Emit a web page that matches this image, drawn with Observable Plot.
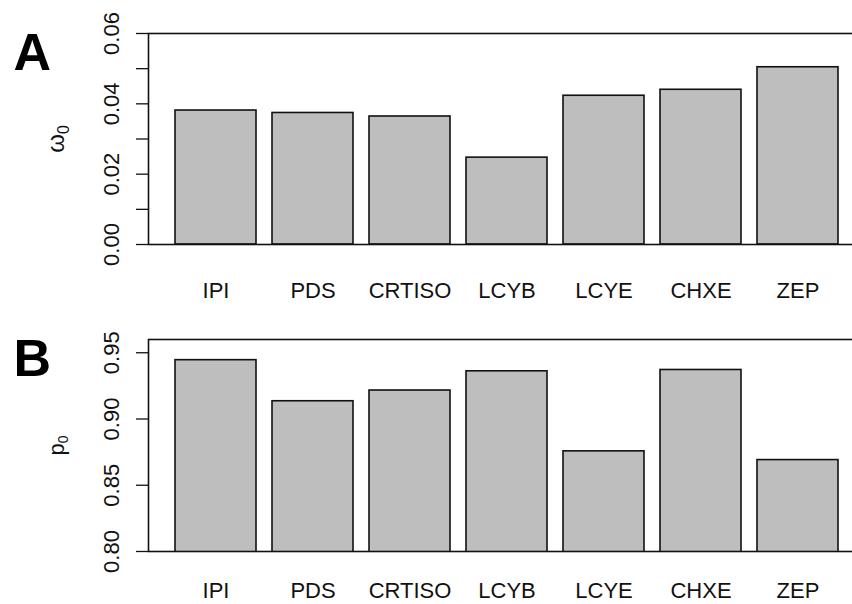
<!DOCTYPE html>
<html>
<head>
<meta charset="utf-8">
<script src="https://cdn.jsdelivr.net/npm/d3@7"></script>
<script src="https://cdn.jsdelivr.net/npm/@observablehq/plot@0.6"></script>
<style>
  html, body { margin: 0; padding: 0; background: #fff; }
  #chart { width: 852px; }
  #chart svg { display: block; overflow: hidden; }
</style>
</head>
<body>
<div id="chart"></div>
<script>
// ---- data ----
const genes = ["IPI", "PDS", "CRTISO", "LCYB", "LCYE", "CHXE", "ZEP"];
const omega0 = [0.0381, 0.0374, 0.0364, 0.0247, 0.0423, 0.0440, 0.0504];
const p0 = [0.9444, 0.9134, 0.9215, 0.9360, 0.8756, 0.9370, 0.8690];
const yTicksA = [0, 0.01, 0.02, 0.03, 0.04, 0.05, 0.06];
const yLabelsA = [0, 0.02, 0.04, 0.06];
const yTicksB = [0.80, 0.85, 0.90, 0.95];
const yLabelsB = [0.80, 0.85, 0.90, 0.95];
const yDomainA = [0, 0.06];
const yDomainB = [0.80, 0.96];
const ylabA = ["ω", "0"];
const ylabB = ["p", "0"];

const font = "Liberation Sans, Arial, Helvetica, sans-serif";

function panel({letter, ylab, ylabSize, values, yDomain, ticks, labels, marginTop, marginBottom, labelDy}) {
  const data = genes.map((g, i) => ({gene: g, value: values[i]}));
  const ylabText = ylab[0] + ylab[1];
  const svg = Plot.plot({
    width: 852,
    height: 302,
    marginLeft: 148,
    marginRight: -13,
    marginTop,
    marginBottom,
    style: {fontFamily: font, background: "white", color: "#111"},
    x: {domain: genes, type: "band", paddingInner: 1 / 6, paddingOuter: 0.2733, align: 0.5, axis: null},
    y: {domain: yDomain, axis: null},
    marks: [
      Plot.barY(data, {x: "gene", y: "value", fill: "#bebebe", stroke: "#111", strokeWidth: 1.6, clip: true}),
      Plot.frame({stroke: "#111", strokeWidth: 1.6}),
      Plot.axisY(ticks, {anchor: "left", tickSize: 12, tickFormat: () => "", stroke: "#111", strokeWidth: 1.3, label: null}),
      Plot.text(labels, {
        y: d => d, text: d => d.toFixed(2), frameAnchor: "left", dx: -37,
        rotate: -90, textAnchor: "middle", lineAnchor: "middle",
        fontSize: 22, fill: "#111"
      }),
      Plot.text(genes, {
        x: d => d, text: d => d, frameAnchor: "bottom", dy: labelDy,
        textAnchor: "middle", lineAnchor: "middle", fontSize: 22, fill: "#111"
      }),
      Plot.text([ylabText], {
        frameAnchor: "left", dx: -92, rotate: -90, textAnchor: "middle",
        lineAnchor: "middle", fontSize: ylabSize, fill: "#111"
      }),
      Plot.text([letter], {
        frameAnchor: "top-left", dx: -135, dy: 0, textAnchor: "start",
        lineAnchor: "top", fontSize: 52, fontWeight: "bold", fill: "#000"
      })
    ]
  });
  // turn the y label's second character into a real subscript
  svg.querySelectorAll("text").forEach(t => {
    if (t.textContent === ylabText && t.children.length === 0) {
      t.textContent = "";
      const ns = "http://www.w3.org/2000/svg";
      const a = document.createElementNS(ns, "tspan");
      a.textContent = ylab[0];
      const b = document.createElementNS(ns, "tspan");
      b.textContent = ylab[1];
      b.setAttribute("dy", "0.3em");
      b.setAttribute("font-size", Math.round(ylabSize * 0.65));
      t.appendChild(a);
      t.appendChild(b);
    }
  });
  return svg;
}

const chart = document.getElementById("chart");
chart.appendChild(panel({
  letter: "A", ylab: ylabA, ylabSize: 24, values: omega0, yDomain: yDomainA,
  ticks: yTicksA, labels: yLabelsA, marginTop: 33, marginBottom: 58, labelDy: 46
}));
chart.appendChild(panel({
  letter: "B", ylab: ylabB, ylabSize: 22, values: p0, yDomain: yDomainB,
  ticks: yTicksB, labels: yLabelsB, marginTop: 37, marginBottom: 53, labelDy: 39
}));
</script>
</body>
</html>
